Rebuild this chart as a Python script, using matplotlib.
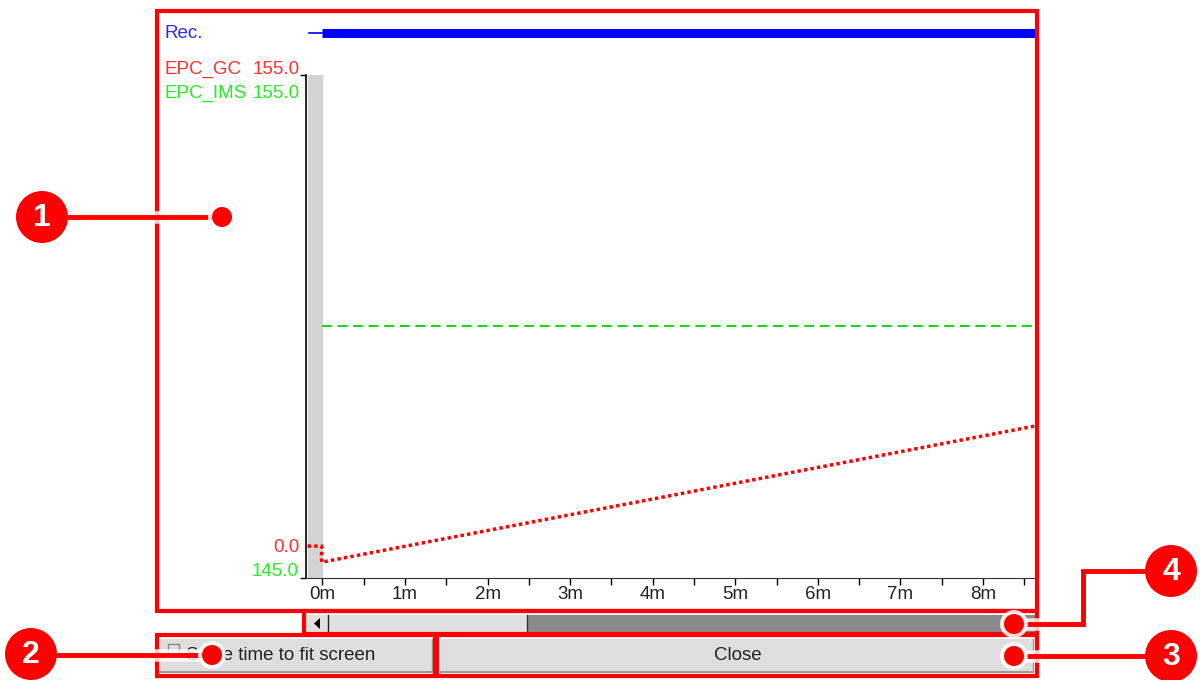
import matplotlib
matplotlib.use('Agg')
import matplotlib.pyplot as plt
from matplotlib.patches import Rectangle, Circle, Polygon
import matplotlib.patheffects as pe

plt.rcParams['font.family'] = ['Liberation Sans', 'DejaVu Sans']

# time axis in minutes
tick_min = [0, 1, 2, 3, 4, 5, 6, 7, 8]
tick_lbl = ['0m', '1m', '2m', '3m', '4m', '5m', '6m', '7m', '8m']
t_start, t_end = -0.199, 8.63

# Rec. track
rec_thin_t = [-0.16, 0.0]
rec_t = [0.0, 8.63]

# EPC_GC (red, scale 0..155)
gc_t = [-0.18, -0.01, -0.01, 8.63]
gc_v = [0.0, 0.0, -5.3, 39.5]
gc_lim = (-10.5, 155.0)

# EPC_IMS (green, scale 145..155)
ims_t = [0.0, 8.63]
ims_v = [150.0, 150.0]
ims_lim = (145.0, 155.0)

RED = '#ff0000'
FS = 13.5
W, H = 1200, 680
fig = plt.figure(figsize=(12, 6.8), dpi=100)

def fx(x):
    return x / W

def fy(y):
    return 1 - y / H

# main plot area (pixel box 306..1035 x 75..578)
ax = fig.add_axes([fx(306), fy(578), fx(1035 - 306), (578 - 75) / H])
ax.set_xlim(t_start, t_end)
ax.set_ylim(*ims_lim)
ax.axvspan(-0.178, -0.008, color='#d3d3d3', zorder=0)
ax.plot(ims_t, ims_v, color='#00e000', lw=1.4, dashes=(5, 3))
for s in ['top', 'right']:
    ax.spines[s].set_visible(False)
ax.spines['left'].set_linewidth(1.2)
ax.spines['bottom'].set_color('#333333')
ax.set_xticks(tick_min)
ax.set_xticklabels(tick_lbl, fontsize=FS, color='#222222')
ax.set_xticks([m + 0.5 for m in tick_min], minor=True)
ax.tick_params(axis='x', which='both', direction='out', length=5, width=1, pad=1)
ax.set_yticks(list(ims_lim))
ax.set_yticklabels([])
ax.tick_params(axis='y', length=4.3, width=1)

ax2 = ax.twinx()
ax2.set_ylim(*gc_lim)
ax2.plot(gc_t, gc_v, color=RED, lw=2.5, linestyle=(0, (1, 0.9)))
ax2.axis('off')

# Rec. row
axr = fig.add_axes([fx(306), fy(46), fx(1035 - 306), 26 / H])
axr.set_xlim(t_start, t_end)
axr.set_ylim(0, 1)
axr.plot(rec_thin_t, [0.5, 0.5], color='#0000ff', lw=1.2)
axr.plot(rec_t, [0.5, 0.5], color='#0000ff', lw=6.5, solid_capstyle='butt')
axr.axis('off')

# overlay in pixel coordinates
ov = fig.add_axes([0, 0, 1, 1], zorder=10)
ov.set_xlim(0, W)
ov.set_ylim(H, 0)
ov.axis('off')
ov.patch.set_alpha(0)

# labels
ov.text(164, 34, 'Rec.', color='#2b2bff', fontsize=FS, va='center')
ov.text(164, 69, 'EPC_GC', color='#ff3030', fontsize=FS, va='center')
ov.text(300, 69, '155.0', color='#ff3030', fontsize=FS, va='center', ha='right')
ov.text(164, 93, 'EPC_IMS', color='#22ee22', fontsize=FS, va='center')
ov.text(300, 93, '155.0', color='#22ee22', fontsize=FS, va='center', ha='right')
ov.text(299, 547, '0.0', color='#ff3030', fontsize=FS, va='center', ha='right')
ov.text(299, 572, '145.0', color='#22ee22', fontsize=FS, va='center', ha='right')

# scrollbar
ov.add_patch(Rectangle((306, 615), 22, 17, fc='#e0e0e0', ec='none'))
ov.add_patch(Polygon([[314, 623.5], [320, 618], [320, 629]], closed=True, fc='black', ec='none'))
ov.plot([328, 328], [615, 632], color='#222222', lw=1)
ov.add_patch(Rectangle((329, 615), 198, 17, fc='#e0e0e0', ec='none'))
ov.plot([527, 527], [615, 632], color='#333333', lw=1)
ov.add_patch(Rectangle((528, 615), 507, 17, fc='#8a8a8a', ec='none'))

# buttons
ov.add_patch(Rectangle((160, 639), 272, 33, fc='#dedede', ec='none'))
ov.plot([160, 432], [672, 672], color='#9a9a9a', lw=1.5)
ov.plot([432, 432], [639, 672], color='#9a9a9a', lw=1)
ov.add_patch(Rectangle((168, 644), 11, 11, fc='none', ec='#888888', lw=1))
ov.text(186, 655, 'Scale time to fit screen', color='#222222', fontsize=FS, va='center')
ov.add_patch(Rectangle((441, 639), 592, 33, fc='#dedede', ec='none'))
ov.plot([441, 1033], [672, 672], color='#9a9a9a', lw=1.5)
ov.plot([1033, 1033], [639, 672], color='#9a9a9a', lw=1)
ov.text(738, 655, 'Close', color='#222222', fontsize=FS, va='center', ha='center')

# red callout boxes
for (x0, y0, x1, y1) in [(157, 11, 1037, 611), (304, 611, 1037, 634),
                         (157, 635, 435, 676), (437, 635, 1037, 676)]:
    ov.add_patch(Rectangle((x0, y0), x1 - x0, y1 - y0, fill=False, ec=RED, lw=3, zorder=5))

# callout leaders
glow = [pe.Stroke(linewidth=9, foreground='white', alpha=0.8), pe.Normal()]
leaders = [
    ([40, 222], [217, 217]),
    ([30, 212], [655, 655]),
    ([1171, 1014], [656, 656]),
    ([1171, 1083, 1083, 1014], [571, 571, 624, 624]),
]
for xs, ys in leaders:
    ov.plot(xs, ys, color=RED, lw=3.5, path_effects=glow, solid_joinstyle='miter', zorder=6)

for (x, y) in [(222, 217), (212, 655), (1014, 656), (1014, 624)]:
    ov.add_patch(Circle((x, y), 14, fc='white', ec='none', alpha=0.85, zorder=7))
    ov.add_patch(Circle((x, y), 10, fc=RED, ec='none', zorder=8))

for num, (x, y) in zip(['1', '2', '3', '4'], [(42, 217), (31, 654), (1171, 656), (1171, 571)]):
    ov.add_patch(Circle((x, y), 26, fc=RED, ec='none', zorder=8))
    ov.text(x, y + 1, num, color='white', fontsize=23, fontweight='bold',
            ha='center', va='center', zorder=9)

fig.savefig('out.png', dpi=100)
